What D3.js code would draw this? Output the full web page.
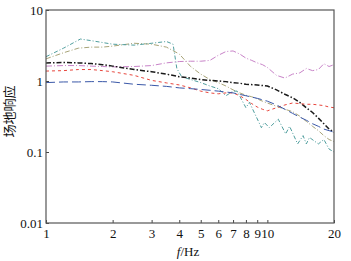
<!DOCTYPE html>
<html>
<head>
<meta charset="utf-8">
<script src="https://cdn.jsdelivr.net/npm/d3@7"></script>
<style>
  body { margin: 0; background: #fff; }
  text { font-family: "Liberation Serif", "DejaVu Serif", serif; font-size: 13px; fill: #111; }
</style>
</head>
<body>
<div id="chart"></div>
<script>
// series: [frequency Hz, site response]
var seriesBlack = [[1,1.8],[1.2,1.82],[1.4,1.8],[1.6,1.76],[1.8,1.7],[2,1.62],[2.5,1.45],[3,1.35],[3.5,1.25],[4,1.15],[4.5,1.1],[5,1.05],[5.5,1.02],[6,1.0],[6.5,0.98],[7,0.95],[7.5,0.93],[8,0.9],[9,0.88],[10,0.85],[11,0.75],[12,0.65],[13,0.58],[14,0.5],[15,0.42],[16,0.36],[17,0.3],[18,0.25],[19,0.21],[20,0.19]];
var seriesRed = [[1,1.38],[1.2,1.4],[1.4,1.45],[1.6,1.45],[1.8,1.4],[2,1.35],[2.5,1.2],[3,1.02],[3.5,0.94],[4,0.88],[4.5,0.8],[5,0.72],[5.5,0.68],[6,0.66],[6.5,0.68],[7,0.68],[7.5,0.62],[8,0.55],[8.5,0.48],[9,0.43],[9.5,0.4],[10,0.38],[11,0.42],[12,0.46],[13,0.49],[14,0.48],[15,0.47],[16,0.47],[17,0.46],[18,0.45],[19,0.43],[20,0.42]];
var seriesBlue = [[1,0.95],[1.2,0.97],[1.4,0.97],[1.6,0.98],[1.8,0.98],[2,0.97],[2.5,0.9],[3,0.87],[3.5,0.84],[4,0.8],[4.5,0.78],[5,0.76],[5.5,0.74],[6,0.72],[6.5,0.7],[7,0.68],[8,0.62],[9,0.57],[10,0.52],[11,0.46],[12,0.4],[13,0.35],[14,0.31],[15,0.28],[16,0.25],[17,0.23],[18,0.21],[19,0.2],[20,0.19]];
var seriesPink = [[1,1.62],[1.2,1.65],[1.4,1.65],[1.6,1.62],[1.8,1.6],[2,1.58],[2.5,1.6],[3,1.65],[3.5,1.8],[4,1.88],[4.5,1.9],[5,1.9],[5.5,1.95],[6,2.3],[6.5,2.6],[7,2.65],[7.5,2.4],[8,2.1],[8.5,1.95],[9,1.8],[9.5,1.7],[10,1.55],[11,1.2],[12,1.1],[13,1.25],[14,1.3],[15,1.5],[16,1.4],[17,1.45],[18,1.75],[19,1.6],[20,1.7]];
var seriesOlive = [[1,2.05],[1.2,2.5],[1.4,2.9],[1.6,3.0],[1.8,3.0],[2,3.1],[2.5,3.4],[3,3.3],[3.5,3.0],[4,2.4],[4.5,1.6],[5,1.25],[5.5,1.05],[6,0.95],[6.5,0.85],[7,0.75],[7.5,0.68],[8,0.63],[8.5,0.6],[9,0.56],[9.5,0.52],[10,0.49],[11,0.44],[12,0.4],[13,0.37],[14,0.32],[15,0.27],[16,0.23],[17,0.2],[18,0.17],[19,0.15],[20,0.14]];
var seriesTeal = [[1,2.2],[1.2,2.9],[1.43,3.9],[1.6,3.7],[2,3.3],[2.5,3.2],[3,3.4],[3.5,3.6],[3.75,3.3],[3.9,1.5],[4.1,1.15],[4.5,1.05],[5,0.95],[5.5,0.85],[6,0.78],[6.5,0.62],[7,0.72],[7.3,0.72],[8,0.42],[8.3,0.5],[9.4,0.22],[9.7,0.26],[10.2,0.22],[11.2,0.29],[12.1,0.18],[12.6,0.23],[13.7,0.13],[14.5,0.17],[15,0.13],[15.5,0.16],[17,0.13],[18,0.15],[19,0.11],[20,0.1]];

var xTicks = [1, 2, 3, 4, 5, 6, 7, 8, 9, 10, 20];
var yTicks = [0.01, 0.1, 1, 10];

var lines = [
    { data: seriesOlive, color: "#a8a478", dash: "5,2,1,2", width: 1 },
    { data: seriesTeal, color: "#4f9e9e", dash: "4,2,1,2", width: 1 },
    { data: seriesPink, color: "#c883c8", dash: "6,2,1,2", width: 1 },
    { data: seriesBlack, color: "#1a1a1a", dash: "5,2,1.5,2", width: 1.5 },
    { data: seriesRed, color: "#e8453c", dash: "3,3", width: 1 },
    { data: seriesBlue, color: "#3a58a8", dash: "9,4", width: 1 }
];

var W = 351, H = 261;
var margin = { top: 10, right: 17, bottom: 38, left: 46 };
var width = W - margin.left - margin.right,
    height = H - margin.top - margin.bottom;

var svg = d3.select("#chart").append("svg")
    .attr("width", W)
    .attr("height", H)
    .append("g")
    .attr("transform", "translate(" + margin.left + "," + margin.top + ")");

var x = d3.scaleLog().domain([1, 20]).range([0, width]);
var y = d3.scaleLog().domain([0.01, 10]).range([height, 0]);

var line = d3.line()
    .x(function (d) { return x(d[0]); })
    .y(function (d) { return y(d[1]); });

svg.append("clipPath").attr("id", "clip")
    .append("rect").attr("width", width).attr("height", height);

var g = svg.append("g").attr("clip-path", "url(#clip)");
lines.forEach(function (s) {
    g.append("path")
        .datum(s.data)
        .attr("d", line)
        .attr("fill", "none")
        .attr("stroke", s.color)
        .attr("stroke-width", s.width)
        .attr("stroke-dasharray", s.dash);
});

// axes with inward ticks
var xAxis = svg.append("g")
    .attr("transform", "translate(0," + height + ")")
    .call(d3.axisBottom(x).tickValues(xTicks).tickSize(-3).tickPadding(6).tickFormat(d3.format("d")));
var yAxis = svg.append("g")
    .call(d3.axisLeft(y).tickValues(yTicks).tickSize(-3).tickPadding(3).tickFormat(function (d) { return String(d); }));

[xAxis, yAxis].forEach(function (a) {
    a.select(".domain").remove();
    a.selectAll("line").attr("stroke", "#444");
    a.selectAll("text").attr("font-family", "Liberation Serif").attr("font-size", 13).attr("fill", "#111");
});

// frame
svg.append("rect")
    .attr("width", width).attr("height", height)
    .attr("fill", "none").attr("stroke", "#555").attr("stroke-width", 1.2);

svg.append("text")
    .attr("x", width / 2 - 2)
    .attr("y", height + 33)
    .attr("text-anchor", "middle")
    .html('<tspan font-style="italic">f</tspan>/Hz');

svg.append("text")
    .attr("transform", "translate(" + (-32) + "," + (height / 2 - 5) + ") rotate(-90)")
    .attr("text-anchor", "middle")
    .style("font-family", "Noto Sans CJK SC")
    .style("font-size", "13px")
    .text("场地响应");
</script>
</body>
</html>
